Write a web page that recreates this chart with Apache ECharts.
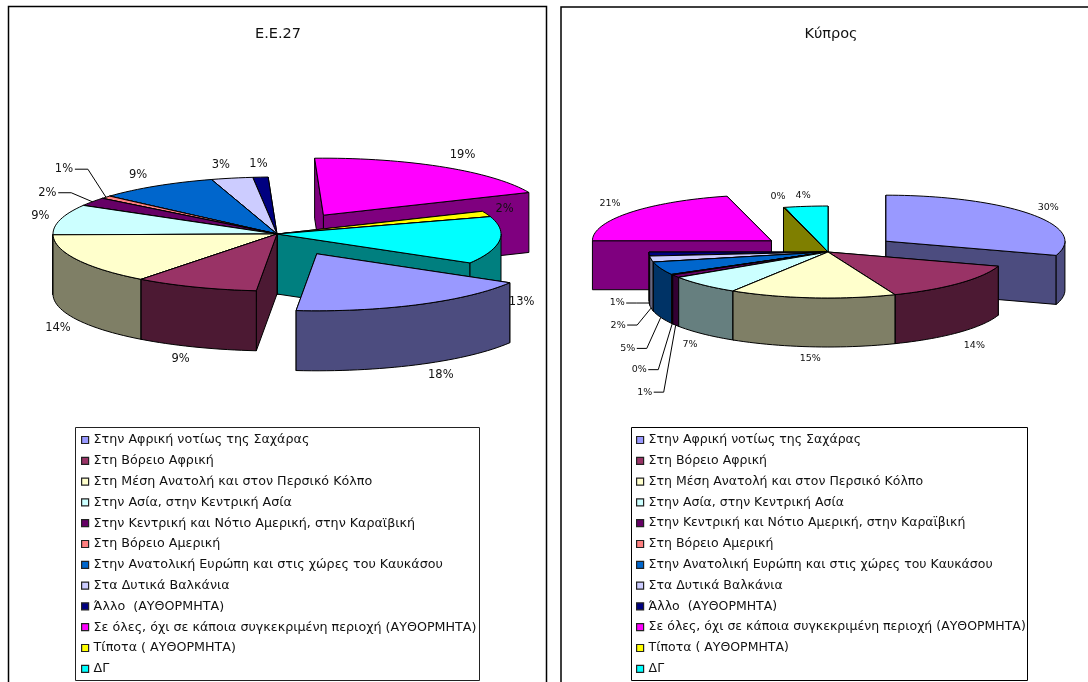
<!DOCTYPE html>
<html><head><meta charset="utf-8">
<style>html,body{margin:0;padding:0;background:#fff}#c{width:1088px;height:682px}</style>
<script src="https://cdn.jsdelivr.net/npm/echarts@6/dist/echarts.min.js"></script>
</head><body><div id="c"></div>
<script>
const categories = ['Στην Αφρική νοτίως της Σαχάρας','Στη Βόρειο Αφρική','Στη Μέση Ανατολή και στον Περσικό Κόλπο','Στην Ασία, στην Κεντρική Ασία','Στην Κεντρική και Νότιο Αμερική, στην Καραϊβική','Στη Βόρειο Αμερική','Στην Ανατολική Ευρώπη και στις χώρες του Καυκάσου','Στα Δυτικά Βαλκάνια','Άλλο  (ΑΥΘΟΡΜΗΤΑ)','Σε όλες, όχι σε κάποια συγκεκριμένη περιοχή (ΑΥΘΟΡΜΗΤΑ)','Τίποτα ( ΑΥΘΟΡΜΗΤΑ)','ΔΓ'];
const valuesEU = [18,8.9,14.4,8.6,2.4,0.8,8.7,3,1.1,19.1,1.6,13.4];
const valuesCY = [30,13.9,15,6.8,1,0.2,4.6,2.1,1.4,21,0.1,3.9];
const titles = ['Ε.Ε.27','Κύπρος'];
const topColors = ['#9999FF','#993366','#FFFFCC','#CCFFFF','#660066','#FF8080','#0066CC','#CCCCFF','#000080','#FF00FF','#FFFF00','#00FFFF'];
const sideColors = ['#4C4C7F','#4C1933','#7F7F66','#667F7F','#330033','#7F4040','#003366','#66667F','#000040','#7F007F','#7F7F00','#007F7F'];

// layout of the two projected pies
const layouts = [
  {values:valuesEU,cx:277,cy:234,rx:224,ry:57,depth:60,start:30.5,explode:{0:.39,9:.39},font:11.5,
   nudge:[[22,70],[-15,72],[-19,68],[-20,-4],[-45,-9],[-42,-28],[-18,-11],[-11,-13],[-2,-13],[20,-12],[18,-5],[22,62]],
   leaders:[4,5]},
  {values:valuesCY,cx:828,cy:252,rx:179,ry:46,depth:49,start:270,explode:{0:.4,9:.4},font:9.5,
   nudge:[[17.5,-7],[15.5,62],[-2,61],[-13,60],[-31,116],[-33,95],[-33,80],[-33,66],[-32,49],[-20,-8.5],[-6,-11],[-3,-11]],
   leaders:[4,5,6,7,8]}
];
const FONT = 'DejaVu Sans';
const rad = d => d*Math.PI/180;

function slices(L){
  const total = L.values.reduce((a,b)=>a+b,0);
  let a = L.start;
  return L.values.map((v,i)=>{
    const sweep = v/total*360, a0=a, a1=a+sweep; a=a1;
    const mid=(a0+a1)/2, e=L.explode[i]||0;
    const ox=L.cx+e*L.rx*Math.cos(rad(mid)), oy=L.cy+e*L.ry*Math.sin(rad(mid));
    return {i,v,a0,a1,mid,e,ox,oy,sort:oy+L.ry*Math.sin(rad(mid))};
  });
}
function arc(S,L,from,to,dy){
  const n=Math.max(2,Math.ceil((to-from)/2)),p=[];
  for(let k=0;k<=n;k++){const t=rad(from+(to-from)*k/n);p.push([S.ox+L.rx*Math.cos(t),S.oy+L.ry*Math.sin(t)+dy]);}
  return p;
}
function sliceGroup(S,L){
  const stroke={stroke:'#000',lineWidth:1,lineJoin:'round'}, kids=[], side=sideColors[S.i];
  const poly=(points,fill)=>kids.push({type:'polygon',shape:{points},style:{fill,...stroke}});
  [S.a0,S.a1].sort((p,q)=>Math.sin(rad(p))-Math.sin(rad(q))).forEach(a=>{
    const t=rad(a),x=S.ox+L.rx*Math.cos(t),y=S.oy+L.ry*Math.sin(t);
    poly([[S.ox,S.oy],[x,y],[x,y+L.depth],[S.ox,S.oy+L.depth]],side);
  });
  [[0,180],[360,540]].forEach(([lo,hi])=>{
    const f=Math.max(S.a0,lo),t=Math.min(S.a1,hi);
    if(t-f>0.01) poly(arc(S,L,f,t,0).concat(arc(S,L,f,t,L.depth).reverse()),side);
  });
  poly([[S.ox,S.oy]].concat(arc(S,L,S.a0,S.a1,0)),topColors[S.i]);
  return {type:'group',children:kids};
}
function labelGroup(L){
  const kids=[];
  slices(L).forEach(S=>{
    const c=Math.cos(rad(S.mid)),s=Math.sin(rad(S.mid));
    const ax=S.ox+L.rx*c, ay=S.oy+L.ry*s;
    const lx=ax+L.nudge[S.i][0], ly=ay+L.nudge[S.i][1];
    kids.push({type:'text',style:{text:Math.round(S.v)+'%',x:lx,y:ly,align:'center',verticalAlign:'middle',fontFamily:FONT,fontSize:L.font,fill:'#111'}});
    if(L.leaders.includes(S.i)){
      const hw=L.font*.95, endY=ay+(s>0?L.depth:0);
      kids.push({type:'polyline',shape:{points:[[lx+hw,ly],[lx+hw+(L.font>10?13:10),ly],[ax,endY]]},style:{stroke:'#000',lineWidth:1,fill:'none'}});
    }
  });
  return {type:'group',children:kids};
}

const series=[];
layouts.forEach((L,p)=>{
  slices(L).sort((a,b)=>a.sort-b.sort).forEach((S,order)=>{
    series.push({type:'custom',coordinateSystem:'none',name:categories[S.i],z:2+order,silent:true,animation:false,
      itemStyle:{color:topColors[S.i]},data:[[L.values[S.i]]],renderItem:()=>sliceGroup(S,L)});
  });
  series.push({type:'custom',coordinateSystem:'none',name:'labels'+p,z:50,silent:true,animation:false,
    data:[[0]],renderItem:()=>labelGroup(L)});
});

const legendBase={orient:'vertical',top:433,selectedMode:false,padding:0,data:categories,icon:'rect',itemWidth:7,itemHeight:7,itemGap:6.8,
  itemStyle:{borderColor:'#222',borderWidth:1.2},
  textStyle:{fontFamily:FONT,fontSize:12.7,color:'#111',lineHeight:14},
  animation:false};
const chart=echarts.init(document.getElementById('c'),null,{renderer:'canvas'});
chart.setOption({
  animation:false,backgroundColor:'#fff',
  title:[
    {text:titles[0],left:278,top:34,textAlign:'center',textVerticalAlign:'middle',textStyle:{fontFamily:FONT,fontSize:14.5,fontWeight:'normal',color:'#111'},padding:0},
    {text:titles[1],left:831,top:34,textAlign:'center',textVerticalAlign:'middle',textStyle:{fontFamily:FONT,fontSize:14.5,fontWeight:'normal',color:'#111'},padding:0}
  ],
  legend:[{...legendBase,left:81},{...legendBase,left:636,textStyle:{...legendBase.textStyle,fontSize:12.5}}],
  graphic:[
    {type:'polyline',silent:true,z:60,shape:{points:[[8.5,682],[8.5,6.5],[546.5,6.5],[546.5,682]]},style:{stroke:'#000',lineWidth:1.5,fill:'none'}},
    {type:'polyline',silent:true,z:60,shape:{points:[[561,682],[561,7],[1088,7]]},style:{stroke:'#000',lineWidth:1.5,fill:'none'}},
    {type:'rect',silent:true,z:60,shape:{x:75.5,y:427.5,width:404,height:253},style:{stroke:'#222',lineWidth:1,fill:'none'}},
    {type:'rect',silent:true,z:60,shape:{x:631.5,y:427.5,width:396,height:253},style:{stroke:'#000',lineWidth:1,fill:'none'}}
  ],
  series
});
</script></body></html>
